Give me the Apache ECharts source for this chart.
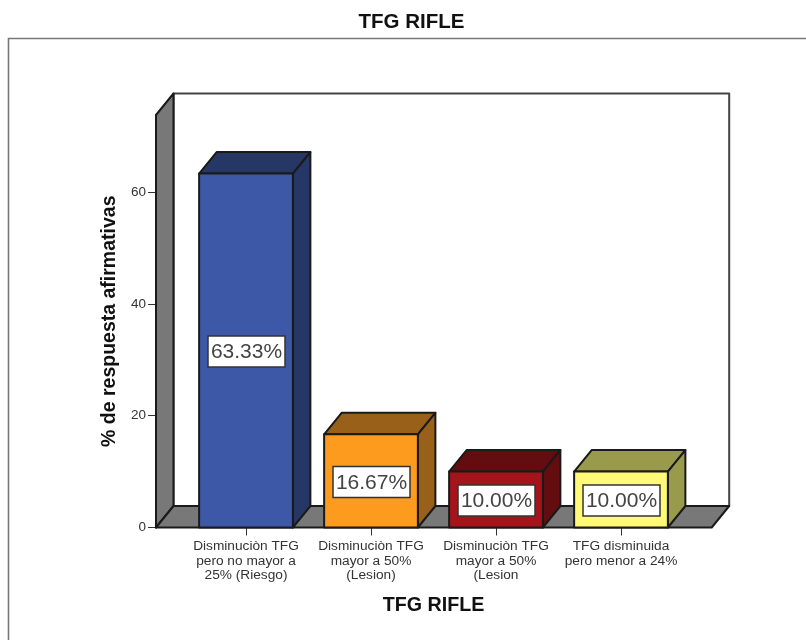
<!DOCTYPE html>
<html>
<head>
<meta charset="utf-8">
<style>html,body{margin:0;padding:0;background:#fff}#chart{width:806px;height:640px}</style>
<script src="https://cdn.jsdelivr.net/npm/echarts@6/dist/echarts.min.js"></script>
</head>
<body>
<div id="chart"></div>
<script>
// Chart data
const categories = [
  'Disminuciòn TFG\npero no mayor a\n25% (Riesgo)',
  'Disminuciòn TFG\nmayor a 50%\n(Lesion)',
  'Disminuciòn TFG\nmayor a 50%\n(Lesion',
  'TFG disminuida\npero menor a 24%'
];
const percentages = [63.33, 16.67, 10.00, 10.00];
const yTicks = [0, 20, 40, 60];
const frontColors = ['#3E58A8', '#FD9B1F', '#A5141B', '#FFF977'];
const sideColors = ['#263766', '#99601A', '#640D10', '#9A9A4C'];

// Extruded look: how far the depth faces shift right and up, in pixels
const DEPTH_X = 17.5;
const DEPTH_Y = 21.5;
const EDGE = '#1a1a1a';
const WALL = '#787878';
const face = (pts, fill, lineWidth, stroke) => ({
  type: 'polygon',
  shape: { points: pts },
  style: { fill, stroke: stroke || EDGE, lineWidth: lineWidth || 2, lineJoin: 'round' }
});

// Back wall, left wall and floor of the 3D box around the plot
function renderBox(params) {
  const c = params.coordSys;
  const left = c.x - 27.5, right = c.x + c.width + 28.2;
  const top = c.y, bottom = c.y + c.height;
  return {
    type: 'group',
    children: [
      face([[left + DEPTH_X, top - DEPTH_Y], [right + DEPTH_X, top - DEPTH_Y],
            [right + DEPTH_X, bottom - DEPTH_Y], [left + DEPTH_X, bottom - DEPTH_Y]], '#fff', 2, '#444'),
      face([[left, top], [left + DEPTH_X, top - DEPTH_Y],
            [left + DEPTH_X, bottom - DEPTH_Y], [left, bottom]], WALL),
      face([[left, bottom], [left + DEPTH_X, bottom - DEPTH_Y],
            [right + DEPTH_X, bottom - DEPTH_Y], [right, bottom]], WALL)
    ]
  };
}

// One extruded bar with its boxed percentage label on the front face
function renderBar(params, api) {
  const idx = params.dataIndex;
  const val = api.value(1);
  const top = api.coord([api.value(0), val]);
  const base = api.coord([api.value(0), 0]);
  const w = api.size([1, 0])[0] * 0.75;
  const x0 = top[0] - w / 2, x1 = top[0] + w / 2;
  const cy = (top[1] + base[1]) / 2 + 1;
  return {
    type: 'group',
    children: [
      face([[x0, top[1]], [x0 + DEPTH_X, top[1] - DEPTH_Y],
            [x1 + DEPTH_X, top[1] - DEPTH_Y], [x1, top[1]]], sideColors[idx]),
      face([[x1, top[1]], [x1 + DEPTH_X, top[1] - DEPTH_Y],
            [x1 + DEPTH_X, base[1] - DEPTH_Y], [x1, base[1]]], sideColors[idx]),
      face([[x0, top[1]], [x1, top[1]], [x1, base[1]], [x0, base[1]]], frontColors[idx]),
      {
        type: 'rect',
        shape: { x: top[0] - 38, y: cy - 15.5, width: 77, height: 31 },
        style: { fill: '#fff', stroke: '#333', lineWidth: 1.5 }
      },
      {
        type: 'text',
        style: {
          text: val.toFixed(2) + '%',
          x: top[0] + 0.5, y: cy + 1,
          align: 'center', verticalAlign: 'middle',
          font: '21px "Liberation Sans", Arial, sans-serif',
          fill: '#444'
        }
      }
    ]
  };
}

const chart = echarts.init(document.getElementById('chart'), null, { renderer: 'canvas' });
chart.setOption({
  animation: false,
  backgroundColor: '#fff',
  textStyle: { fontFamily: '"Liberation Sans", Arial, sans-serif' },
  // Chart heading and outer frame, open on the right and bottom
  graphic: [{
    type: 'text',
    silent: true,
    style: {
      text: 'TFG RIFLE',
      x: 411.5, y: 22,
      align: 'center', verticalAlign: 'middle',
      font: 'bold 20.5px "Liberation Sans", Arial, sans-serif',
      fill: '#111'
    }
  }, {
    type: 'polyline',
    silent: true,
    shape: { points: [[8.5, 640], [8.5, 38.5], [806, 38.5]] },
    style: { stroke: '#777', lineWidth: 1.6, fill: null }
  }],
  grid: { left: 183.5, width: 500, top: 115, height: 412.5 },
  xAxis: {
    type: 'category',
    data: categories,
    name: 'TFG RIFLE',
    nameLocation: 'middle',
    nameGap: 68,
    nameTextStyle: { fontSize: 19.7, fontWeight: 'bold', color: '#111' },
    axisLine: { show: false },
    axisTick: { show: true, alignWithLabel: true, length: 8, lineStyle: { color: '#333', width: 1 } },
    axisLabel: { fontSize: 13.7, lineHeight: 14.5, color: '#333', margin: 11.5, interval: 0 }
  },
  yAxis: {
    type: 'value',
    min: 0,
    max: 73.8,
    interval: 20,
    offset: 27.5,
    name: '% de respuesta afirmativas',
    nameLocation: 'middle',
    nameRotate: 90,
    nameGap: 35,
    nameTextStyle: { fontSize: 19.5, fontWeight: 'bold', color: '#111' },
    splitLine: { show: false },
    axisLine: { show: true, lineStyle: { color: '#1a1a1a', width: 2 } },
    axisTick: { show: true, customValues: yTicks, length: 8, lineStyle: { color: '#333', width: 1 } },
    axisLabel: { fontSize: 13.5, color: '#333', margin: 10, customValues: yTicks }
  },
  series: [
    {
      type: 'custom',
      name: 'box',
      z: 1,
      silent: true,
      renderItem: renderBox,
      data: [[0, 0]],
      encode: { x: 0, y: 1 }
    },
    {
      type: 'custom',
      name: 'bars',
      z: 2,
      renderItem: renderBar,
      data: percentages.map((v, i) => [i, v]),
      encode: { x: 0, y: 1 }
    }
  ]
});
</script>
</body>
</html>
